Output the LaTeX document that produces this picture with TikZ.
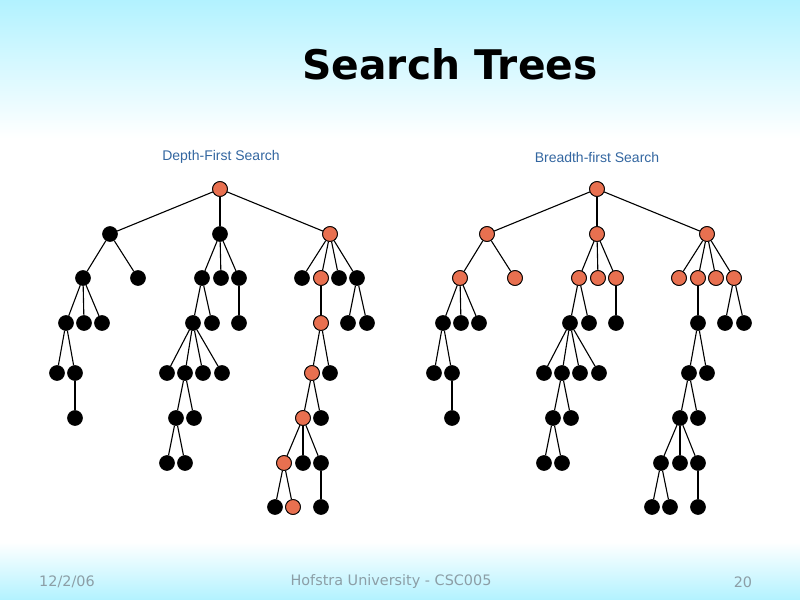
\documentclass[tikz,border=0pt]{standalone}
\usepackage{fontspec}
\setmainfont{DejaVu Sans}
\newfontfamily\arialfont{Liberation Sans}
\usepackage{tikz}
\usepackage{xcolor}
\definecolor{visit-orange}{RGB}{232,112,80}
\definecolor{sky-cyan}{RGB}{178,242,255}
\definecolor{label-blue}{RGB}{51,102,160}
\definecolor{foot-grey}{RGB}{140,158,166}
\tikzstyle{unvisited}=[circle,draw=black,fill=black,inner sep=0pt,minimum size=7.4pt,line width=0.4pt]
\tikzstyle{visited}=[circle,draw=black,fill=visit-orange,inner sep=0pt,minimum size=7.4pt,line width=0.4pt]
\tikzstyle{footer}=[text=foot-grey,font=\fontsize{7.2}{8}\selectfont]

\begin{document}
\begin{tikzpicture}[x=0.5pt,y=-0.5pt]
	\useasboundingbox (0,0) rectangle (800,600);
	\shade[top color=sky-cyan,bottom color=white] (0,0) rectangle (800,138);
	\shade[top color=white,bottom color=sky-cyan] (0,542) rectangle (800,600);
	\node (title) at (450,64) {\fontsize{20.4}{24}\selectfont\bfseries Search Trees};
	\node[text=label-blue] (dfs) at (221,157) {\arialfont\fontsize{7}{8}\selectfont Depth-First Search};
	\node[text=label-blue] (bfs) at (597,157) {\arialfont\fontsize{7}{8}\selectfont Breadth-first Search};
	% both trees have the same shape
	\foreach \t/\dx in {L/0,R/377}{
		\begin{scope}[shift={(\dx,0)}]
		\foreach \n/\x/\y in {r/220/189, a/110/234, b/220/234, c/330/234,
			a1/83/278, a2/138/278, b1/202/278, b2/221/278, b3/239/278, c1/302/278, c2/321/278, c3/339/278, c4/357/278,
			a11/66/323, a12/84/323, a13/102/323, b11/193/323, b12/212/323, b31/239/323, c21/321/323, c41/348/323, c42/367/323,
			a111/57/373, a112/75/373, b111/167/373, b112/185/373, b113/203/373, b114/222/373, c211/312/373, c212/330/373,
			a1121/75/418, b1121/176/418, b1122/194/418, c2111/303/418, c2112/321/418,
			b11211/167/463, b11212/185/463, c21111/284/463, c21112/303/463, c21113/321/463,
			c211111/275/507, c211112/293/507, c211131/321/507}
			\node[unvisited] (\t\n) at (\x,\y) {};
		\end{scope}
	}
	\foreach \t in {L,R}
		\foreach \u/\v in {r/a, r/b, r/c,
			a/a1, a/a2, b/b1, b/b2, b/b3, c/c1, c/c2, c/c3, c/c4,
			a1/a11, a1/a12, a1/a13, b1/b11, b1/b12, b3/b31, c2/c21, c4/c41, c4/c42,
			a11/a111, a11/a112, b11/b111, b11/b112, b11/b113, b11/b114, c21/c211, c21/c212,
			a112/a1121, b112/b1121, b112/b1122, c211/c2111, c211/c2112,
			b1121/b11211, b1121/b11212, c2111/c21111, c2111/c21112, c2111/c21113,
			c21111/c211111, c21111/c211112, c21113/c211131}
			\draw[line width=0.55pt] (\t\u) -- (\t\v);
	% visited nodes
	\foreach \n in {r,c,c2,c21,c211,c2111,c21111,c211112}
		\node[visited] at (L\n) {};
	\foreach \n in {r,a,b,c,a1,a2,b1,b2,b3,c1,c2,c3,c4}
		\node[visited] at (R\n) {};
	\node[footer] (date) at (67,582) {12/2/06};
	\node[footer] (school) at (391,582) {Hofstra University - CSC005};
	\node[footer] (page) at (743,582) {20};
\end{tikzpicture}
\end{document}
